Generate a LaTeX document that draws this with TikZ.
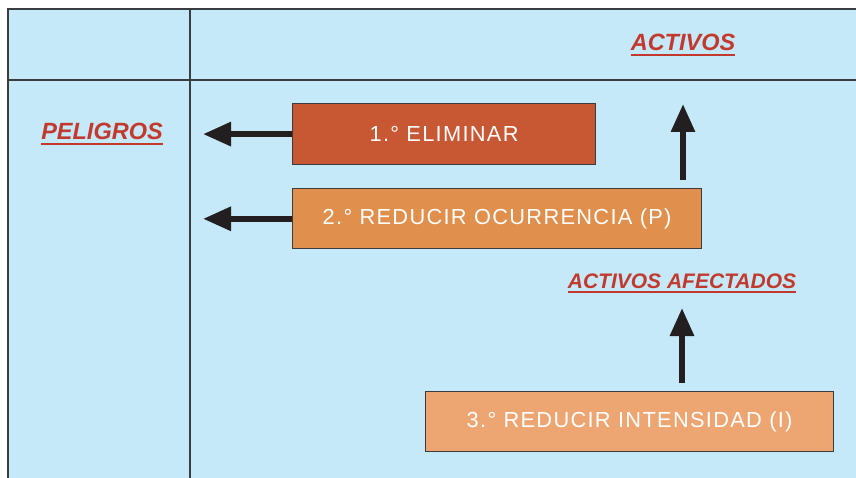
\documentclass[tikz,border=0pt]{standalone}
\usepackage{fontspec}
\setmainfont{Liberation Sans}
\newfontfamily\kassefont[LetterSpace=6]{Liberation Sans}
\usetikzlibrary{arrows.meta,positioning}

\definecolor{himmel}{HTML}{C6E9F9}
\definecolor{kant}{HTML}{3A3C40}
\definecolor{roed}{HTML}{C23A2E}
\definecolor{pilfarve}{HTML}{231F20}
\definecolor{trin1}{HTML}{C85733}
\definecolor{trin2}{HTML}{E08F4D}
\definecolor{trin3}{HTML}{EDA572}

\begin{document}
\begin{tikzpicture}[x=1pt, y=-1pt]

\tikzstyle{kasse}=[rectangle, draw=kant, line width=1.2pt, text=white, inner sep=0pt, font=\kassefont\fontsize{21.8}{26}\selectfont]
\tikzstyle{pil}=[draw=pilfarve, line width=6pt, -{Triangle[length=28pt, width=23pt]}]
\tikzstyle{titel}=[text=roed, inner sep=0pt, anchor=base, font=\bfseries\itshape\fontsize{23.5}{28}\selectfont]
\tikzstyle{streg}=[draw=roed, line width=2pt]

\useasboundingbox (0,0) rectangle (856,478);

% table
\fill[himmel] (8,9) rectangle (856,478);
\draw[kant, line width=1.5pt] (8,478) -- (8,9) -- (856,9);
\draw[kant, line width=1.5pt] (8,80) -- (856,80);
\draw[kant, line width=1.5pt] (190,9) -- (190,478);

% headings
\node[titel] (activos) at (683,51) {ACTIVOS};
\node[titel] (peligros) at (102,140) {PELIGROS};
\node[titel, font=\bfseries\itshape\fontsize{21}{25}\selectfont] (afectados) at (682,288) {ACTIVOS AFECTADOS};
\draw[streg] ([yshift=-4pt]activos.base west) -- ([yshift=-4pt]activos.base east);
\draw[streg] ([yshift=-4pt]peligros.base west) -- ([yshift=-4pt]peligros.base east);
\draw[streg] ([yshift=-4pt]afectados.base west) -- ([yshift=-4pt]afectados.base east);

% steps
\node[kasse, fill=trin1, minimum width=303pt, minimum height=61pt, anchor=north west] (eliminar) at (292,103) {1.° ELIMINAR};
\node[kasse, fill=trin2, minimum width=409pt, minimum height=60pt, below=23pt of eliminar.south west, anchor=north west] (ocurrencia) {2.° REDUCIR OCURRENCIA (P)};
\node[kasse, fill=trin3, minimum width=408pt, minimum height=60pt, anchor=north west] (intensidad) at (425,391) {3.° REDUCIR INTENSIDAD (I)};

\coordinate (spids) at (203,133.5);
\coordinate (fod1) at (683,180);
\coordinate (top1) at (683,104);
\coordinate (fod2) at (682,383);
\coordinate (top2) at (682,308);

\draw[pil] (eliminar.west) -- (eliminar.west -| spids);
\draw[pil] (ocurrencia.west) -- (ocurrencia.west -| spids);
\draw[pil] (fod1) -- (top1);
\draw[pil] (fod2) -- (top2);

\end{tikzpicture}
\end{document}
